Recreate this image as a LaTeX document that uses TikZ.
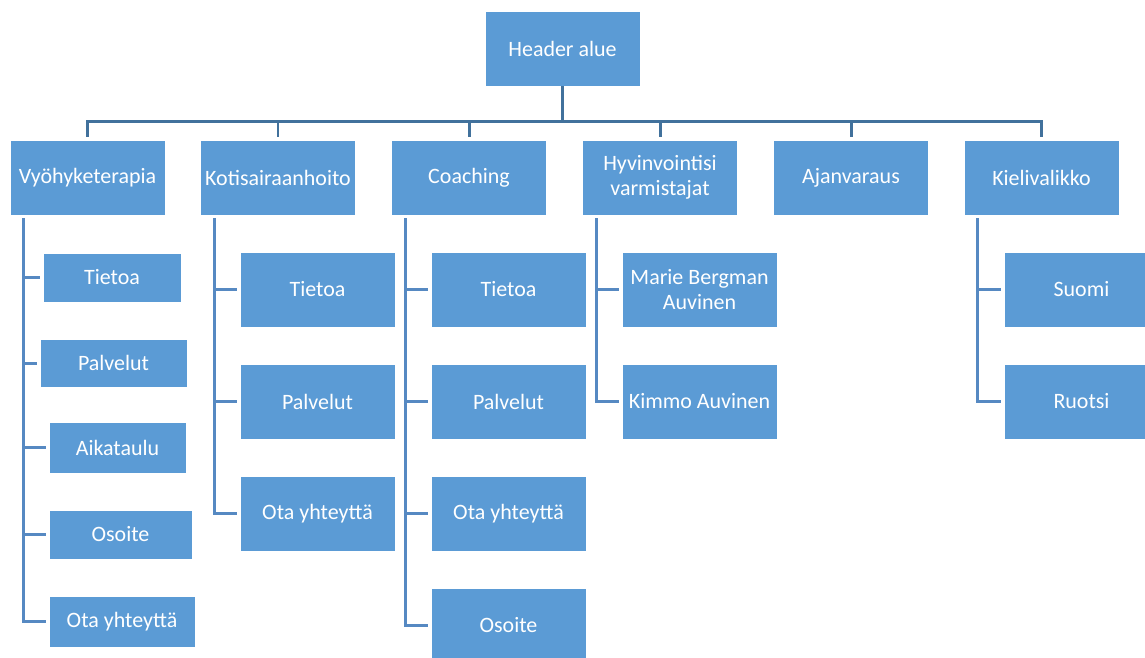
\documentclass[tikz,border=0pt]{standalone}
\usepackage{fontspec}
\setmainfont{Carlito}
\usetikzlibrary{calc}

\definecolor{boxblue}{HTML}{5B9BD5}
\definecolor{buslink}{HTML}{41719C}
\definecolor{sublink}{HTML}{5689C2}

\tikzset{
  sitebox/.style={rectangle, fill=boxblue, draw=white, line width=0.4pt,
    text=white, align=center, font=\fontsize{12.5}{14}\selectfont,
    minimum width=3.1cm, minimum height=1.5cm, inner sep=2pt},
  buslink/.style={draw=buslink, line width=1.7pt},
  sublink/.style={draw=sublink, line width=1.7pt}
}

\begin{document}
\begin{tikzpicture}[x=0.02cm, y=-0.02cm]
    \useasboundingbox (0,0) rectangle (1145,657);
    \clip (0,0) rectangle (1145,657);

    % top level
    \node[sitebox] (hdr) at (562.5,48.5) {Header alue};

    % main menu
    \node[sitebox] (vy) at (87.5,177.5) {Vyöhyketerapia};
    \node[sitebox] (ko) at (278,177.5) {Kotisairaanhoito};
    \node[sitebox] (co) at (469,177.5) {Coaching};
    \node[sitebox] (hy) at (660,177.5) {Hyvinvointisi\\varmistajat};
    \node[sitebox] (aj) at (851,177.5) {Ajanvaraus};
    \node[sitebox] (ki) at (1041.5,177.5) {Kielivalikko};

    \foreach \n in {vy,ko,co,hy,aj,ki}
      \draw[buslink] (hdr.south) -- ++(0,35) -| ($(\n.north)+(0,-3)$);

    % Vyohyketerapia
    \node[sitebox, minimum width=2.76cm, minimum height=0.98cm] (vy1) at (112,277.5) {Tietoa};
    \node[sitebox, minimum width=2.94cm, minimum height=0.96cm] (vy2) at (113.5,363) {Palvelut};
    \node[sitebox, minimum width=2.74cm, minimum height=1.02cm] (vy3) at (117.5,447.5) {Aikataulu};
    \node[sitebox, minimum width=2.86cm, minimum height=0.98cm] (vy4) at (120.5,534.5) {Osoite};
    \node[sitebox, minimum width=2.92cm, minimum height=1.02cm] (vy5) at (122,621.5) {Ota yhteyttä};
    \foreach \c in {vy1,vy2,vy3,vy4,vy5}
      \draw[sublink] ($(vy.south west)+(14,3)$) |- ($(\c.west)+(-3,0)$);

    % Kotisairaanhoito
    \node[sitebox] (ko1) at (317.5,289.5) {Tietoa};
    \node[sitebox] (ko2) at (317.5,401.5) {Palvelut};
    \node[sitebox] (ko3) at (317.5,513.5) {Ota yhteyttä};
    \foreach \c in {ko1,ko2,ko3}
      \draw[sublink] ($(ko.south west)+(14,3)$) |- ($(\c.west)+(-3,0)$);

    % Coaching
    \node[sitebox] (co1) at (508.5,289.5) {Tietoa};
    \node[sitebox] (co2) at (508.5,401.5) {Palvelut};
    \node[sitebox] (co3) at (508.5,513.5) {Ota yhteyttä};
    \node[sitebox] (co4) at (508.5,625.5) {Osoite};
    \foreach \c in {co1,co2,co3,co4}
      \draw[sublink] ($(co.south west)+(14,3)$) |- ($(\c.west)+(-3,0)$);

    % Hyvinvointisi varmistajat
    \node[sitebox] (hy1) at (699.5,289.5) {Marie Bergman\\Auvinen};
    \node[sitebox] (hy2) at (699.5,401.5) {Kimmo Auvinen};
    \foreach \c in {hy1,hy2}
      \draw[sublink] ($(hy.south west)+(14,3)$) |- ($(\c.west)+(-3,0)$);

    % Kielivalikko
    \node[sitebox] (ki1) at (1081.5,289.5) {Suomi};
    \node[sitebox] (ki2) at (1081.5,401.5) {Ruotsi};
    \foreach \c in {ki1,ki2}
      \draw[sublink] ($(ki.south west)+(14,3)$) |- ($(\c.west)+(-3,0)$);
  \end{tikzpicture}
\end{document}
